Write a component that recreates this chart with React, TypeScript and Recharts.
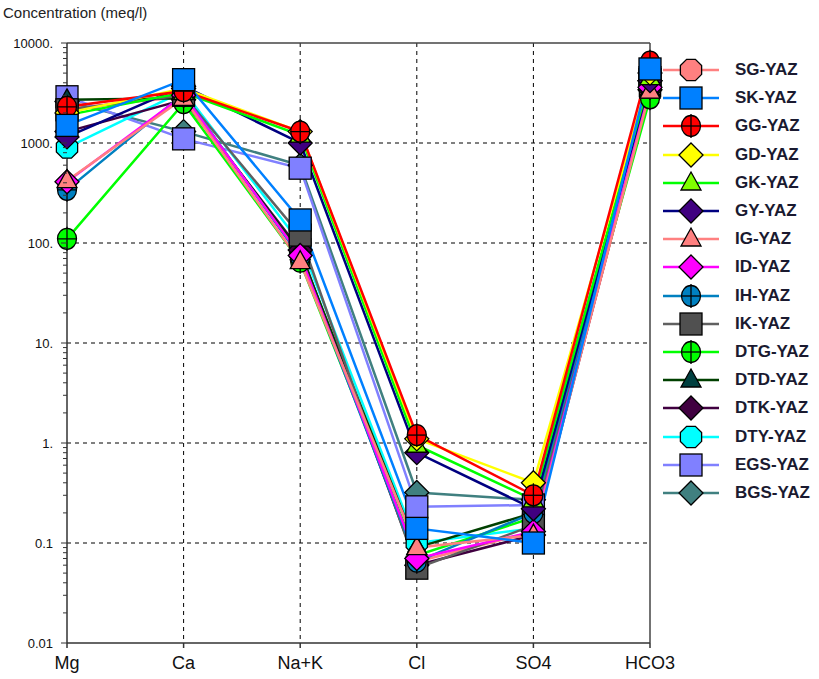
import React from 'react'
import { LineChart, Line, XAxis, YAxis, CartesianGrid } from 'recharts'

const categories = ['Mg', 'Ca', 'Na+K', 'Cl', 'SO4', 'HCO3']

const sgYaz = [2200, 2900, 80, 0.065, 0.13, 3200]
const skYaz = [1500, 4300, 170, 0.14, 0.1, 5500]
const ggYaz = [2300, 3300, 1300, 1.2, 0.3, 6500]
const gdYaz = [2000, 3500, 1300, 1.1, 0.4, 5000]
const gkYaz = [1900, 3200, 1200, 0.95, 0.27, 4500]
const gyYaz = [1150, 3700, 1000, 0.8, 0.22, 4200]
const igYaz = [420, 2800, 65, 0.09, 0.12, 3300]
const idYaz = [410, 3000, 75, 0.07, 0.13, 3600]
const ihYaz = [340, 3100, 72, 0.065, 0.2, 3800]
const ikYaz = [2150, 3000, 120, 0.056, 0.15, 4300]
const dtgYaz = [110, 2500, 65, 0.075, 0.18, 2800]
const dtdYaz = [2700, 2800, 80, 0.09, 0.2, 3500]
const dtkYaz = [1300, 2700, 85, 0.06, 0.12, 3400]
const dtyYaz = [900, 3300, 100, 0.1, 0.14, 4000]
const egsYaz = [2900, 1100, 560, 0.23, 0.24, 4500]
const bgsYaz = [2600, 1300, 600, 0.32, 0.27, 4200]

const majorTicks = [0.01, 0.1, 1, 10, 100, 1000, 10000]
const majorLabels = ['0.01', '0.1', '1.', '10.', '100.', '1000.', '10000.']

type Shape = 'octagon' | 'square' | 'crossCircle' | 'diamond' | 'triangle'

const series: { name: string; values: number[]; line: string; fill: string; shape: Shape }[] = [
  { name: 'SG-YAZ', values: sgYaz, line: '#ff8080', fill: '#ff8080', shape: 'octagon' },
  { name: 'SK-YAZ', values: skYaz, line: '#0080ff', fill: '#0080ff', shape: 'square' },
  { name: 'GG-YAZ', values: ggYaz, line: '#ff0000', fill: '#ff0000', shape: 'crossCircle' },
  { name: 'GD-YAZ', values: gdYaz, line: '#ffff00', fill: '#ffff00', shape: 'diamond' },
  { name: 'GK-YAZ', values: gkYaz, line: '#00ff00', fill: '#80ff00', shape: 'triangle' },
  { name: 'GY-YAZ', values: gyYaz, line: '#000080', fill: '#400080', shape: 'diamond' },
  { name: 'IG-YAZ', values: igYaz, line: '#ff8080', fill: '#ff8080', shape: 'triangle' },
  { name: 'ID-YAZ', values: idYaz, line: '#ff00ff', fill: '#ff00ff', shape: 'diamond' },
  { name: 'IH-YAZ', values: ihYaz, line: '#0080c0', fill: '#0080c0', shape: 'crossCircle' },
  { name: 'IK-YAZ', values: ikYaz, line: '#606060', fill: '#505050', shape: 'square' },
  { name: 'DTG-YAZ', values: dtgYaz, line: '#00ff00', fill: '#00ff00', shape: 'crossCircle' },
  { name: 'DTD-YAZ', values: dtdYaz, line: '#004000', fill: '#004040', shape: 'triangle' },
  { name: 'DTK-YAZ', values: dtkYaz, line: '#400040', fill: '#400040', shape: 'diamond' },
  { name: 'DTY-YAZ', values: dtyYaz, line: '#00ffff', fill: '#00ffff', shape: 'octagon' },
  { name: 'EGS-YAZ', values: egsYaz, line: '#8080ff', fill: '#8080ff', shape: 'square' },
  { name: 'BGS-YAZ', values: bgsYaz, line: '#408080', fill: '#408080', shape: 'diamond' },
]

const data = categories.map((cat, i) => {
  const row: Record<string, string | number> = { cat }
  series.forEach(s => { row[s.name] = s.values[i] })
  return row
})

// log ticks incl. minor ones between decades
const allTicks: number[] = []
for (let d = -2; d < 4; d++) {
  for (let m = 1; m < 10; m++) allTicks.push(Number((m * Math.pow(10, d)).toPrecision(3)))
}
allTicks.push(10000)

// SG sits under everything, the rest: earlier series on top
const drawOrder = [series[0], ...series.slice(1).reverse()]

const Marker = ({ cx, cy, shape, fill }: { cx: number; cy: number; shape: Shape; fill: string }) => {
  const st = { fill, stroke: '#000', strokeWidth: 1.3 }
  if (shape === 'square') return <rect x={cx - 11} y={cy - 11} width={22} height={22} {...st} />
  if (shape === 'diamond') return <polygon points={`${cx},${cy - 12} ${cx + 12},${cy} ${cx},${cy + 12} ${cx - 12},${cy}`} {...st} />
  if (shape === 'triangle') return <polygon points={`${cx},${cy - 11} ${cx + 10},${cy + 7} ${cx - 10},${cy + 7}`} {...st} />
  if (shape === 'octagon') {
    const pts = []
    for (let k = 0; k < 8; k++) {
      const a = (Math.PI / 8) * (2 * k + 1)
      pts.push(`${cx + 11.5 * Math.cos(a)},${cy + 11.5 * Math.sin(a)}`)
    }
    return <polygon points={pts.join(' ')} {...st} />
  }
  return (
    <g>
      <ellipse cx={cx} cy={cy} rx={9.5} ry={10.5} {...st} />
      <line x1={cx} y1={cy - 12} x2={cx} y2={cy + 12} stroke="#000" strokeWidth={1.3} />
      <line x1={cx - 9.5} y1={cy} x2={cx + 9.5} y2={cy} stroke="#000" strokeWidth={1.3} />
    </g>
  )
}

const YTick = (props: any) => {
  const { x, y, payload } = props
  const idx = majorTicks.findIndex(v => Math.abs(v - payload.value) < 1e-9)
  const major = idx >= 0
  return (
    <g>
      <line x1={x - (major ? 6 : 4)} y1={y} x2={x} y2={y} stroke="#333" strokeWidth={1} />
      {major && (
        <text x={x - 14} y={y} dy="0.35em" textAnchor="end" fontSize={13} fill="#111"
          fontFamily="'Liberation Sans', Arial">
          {majorLabels[idx]}
        </text>
      )}
    </g>
  )
}

const XTick = (props: any) => {
  const { x, y, payload } = props
  return (
    <text x={x} y={y} dy="0.71em" textAnchor="middle" fontSize={18} fill="#111"
      fontFamily="'Liberation Sans', Arial">
      {payload.value}
    </text>
  )
}

const App = () => {
  return (
    <div style={{ position: 'absolute', left: 0, top: 0, width: 819, height: 679, background: '#fff' }}>
      <div style={{ position: 'absolute', left: 3, top: 4, fontSize: 15, color: '#222',
        fontFamily: "'Liberation Sans', Arial" }}>
        Concentration (meq/l)
      </div>
      <LineChart width={819} height={679} data={data} margin={{ top: 43, right: 169, bottom: 6, left: 7 }}>
        <CartesianGrid stroke="#000" strokeDasharray="4 4" horizontalValues={[0.1, 1, 10, 100, 1000]}
          verticalValues={['Ca', 'Na+K', 'Cl', 'SO4']} />
        <CartesianGrid stroke="#444" strokeWidth={1.5} horizontalValues={[10000]} verticalValues={['HCO3']} />
        <XAxis dataKey="cat" tick={<XTick />} tickSize={5} tickMargin={8} stroke="#333" strokeWidth={1.5}
          interval={0} />
        <YAxis scale="log" domain={[0.01, 10000]} ticks={allTicks} allowDataOverflow width={60}
          tick={<YTick />} tickLine={false} tickSize={0} tickMargin={0} interval={0}
          stroke="#333" strokeWidth={1.5} />
        {drawOrder.map(s => (
          <Line key={'l' + s.name} dataKey={s.name} stroke={s.line} strokeWidth={2.5} dot={false}
            activeDot={false} isAnimationActive={false} legendType="none" />
        ))}
        {drawOrder.map(s => (
          <Line key={'m' + s.name} dataKey={s.name} stroke="none" activeDot={false} isAnimationActive={false}
            legendType="none"
            dot={(p: any) => <Marker key={s.name + p.index} cx={p.cx} cy={p.cy} shape={s.shape} fill={s.fill} />} />
        ))}
      </LineChart>
      <div style={{ position: 'absolute', left: 663, top: 56 }}>
        {series.map(s => (
          <div key={s.name} style={{ display: 'flex', alignItems: 'center', height: 28.2 }}>
            <svg width={56} height={28}>
              <line x1={0} y1={14} x2={56} y2={14} stroke={s.line} strokeWidth={2.5} />
              <Marker cx={28} cy={14} shape={s.shape} fill={s.fill} />
            </svg>
            <span style={{ marginLeft: 16, fontSize: 17, fontWeight: 'bold', color: '#1a1a30',
              fontFamily: "'Liberation Sans', Arial" }}>{s.name}</span>
          </div>
        ))}
      </div>
    </div>
  )
}

export default App
